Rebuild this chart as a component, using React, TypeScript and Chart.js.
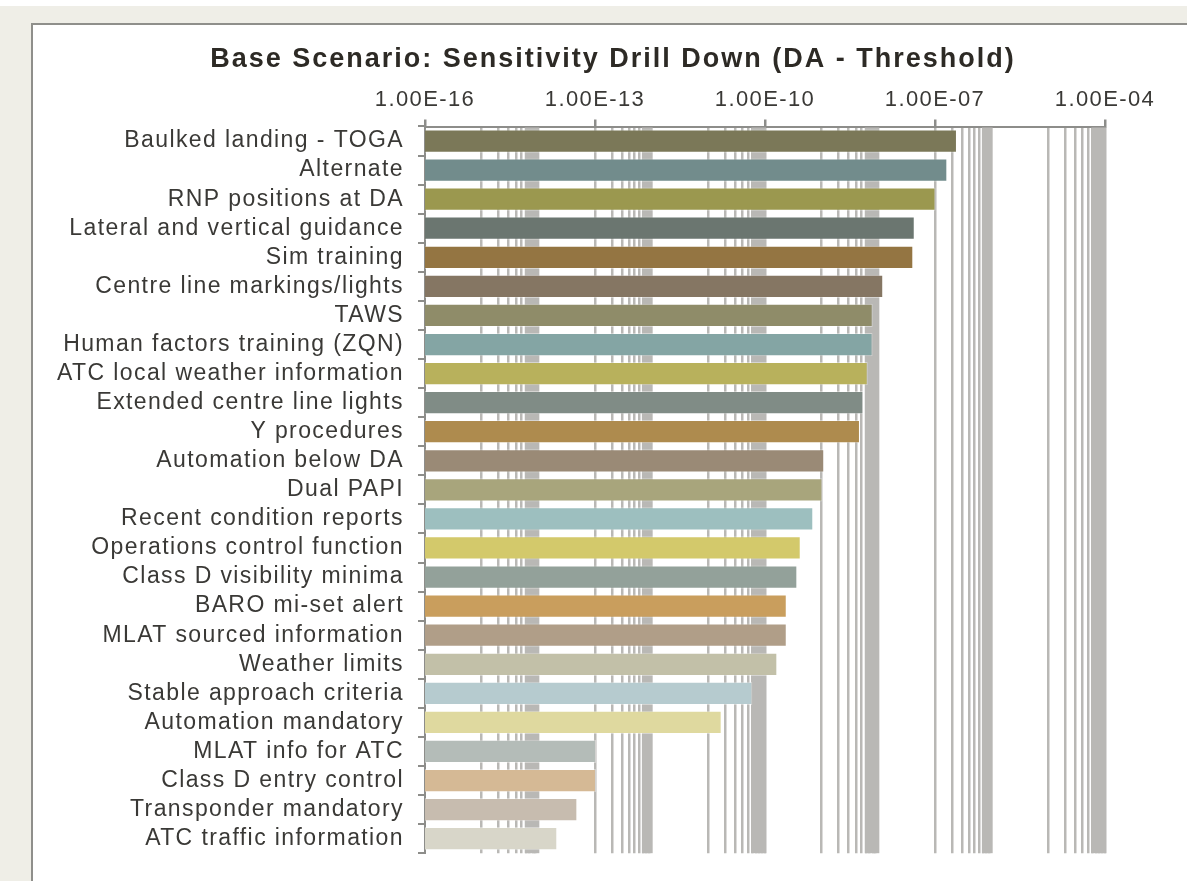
import React, { useEffect, useRef } from "react";
import { Chart, registerables } from "chart.js";

Chart.register(...registerables);

const TITLE = "Base Scenario: Sensitivity Drill Down (DA - Threshold)";

const CATEGORIES = [
  "Baulked landing - TOGA",
  "Alternate",
  "RNP positions at DA",
  "Lateral and vertical guidance",
  "Sim training",
  "Centre line markings/lights",
  "TAWS",
  "Human factors training (ZQN)",
  "ATC local weather information",
  "Extended centre line lights",
  "Y procedures",
  "Automation below DA",
  "Dual PAPI",
  "Recent condition reports",
  "Operations control function",
  "Class D visibility minima",
  "BARO mi-set alert",
  "MLAT sourced information",
  "Weather limits",
  "Stable approach criteria",
  "Automation mandatory",
  "MLAT info for ATC",
  "Class D entry control",
  "Transponder mandatory",
  "ATC traffic information",
];

const VALUES = [
  2.44e-7, 1.65e-7, 1.02e-7, 4.39e-8, 4.14e-8, 1.22e-8, 7.94e-9, 7.9e-9,
  6.49e-9, 5.43e-9, 4.74e-9, 1.11e-9, 1.03e-9, 7.11e-10, 4.27e-10, 3.72e-10,
  2.42e-10, 2.42e-10, 1.65e-10, 5.97e-11, 1.72e-11, 1.04e-13, 1.04e-13,
  4.88e-14, 2.16e-14,
];

const BAR_COLORS = [
  "#7b7858", "#728c8c", "#9b984f", "#6b7670", "#947542", "#857663",
  "#8f8c69", "#84a5a4", "#b8b15c", "#808c86", "#ae8b4e", "#9a8a76",
  "#a8a57c", "#9dbfbf", "#d3c96b", "#93a19a", "#c99e5d", "#b09e88",
  "#c2c0a8", "#b6cbcf", "#dfd99f", "#b4bcb8", "#d5b995", "#c7bcaf",
  "#d8d6c9",
];

const MAJOR_TICKS = [1e-16, 1e-13, 1e-10, 1e-7, 1e-4];
const TICK_LABELS = ["1.00E-16", "1.00E-13", "1.00E-10", "1.00E-07", "1.00E-04"];
// decades in which the minor grid lines are visible: [exponent, first multiplier]
const MINOR_DECADES: [number, number][] = [
  [-15, 1], [-13, 2], [-11, 1], [-9, 1], [-7, 2], [-5, 1],
];
// where the minor grid lines run together into solid grey bands: [from, to]
const GRID_BANDS: [number, number][] = [
  [6e-15, 1e-14], [7e-13, 1e-12], [6e-11, 1e-10], [6e-9, 1e-8], [7e-7, 1e-6], [6e-5, 1e-4],
];

const GRID_COLOR = "#b9b8b5";
const AXIS_COLOR = "#8d8d8a";
const TEXT_COLOR = "#3a3936";
const TITLE_COLOR = "#2d2a25";
const FONT = '"Liberation Sans", Arial, sans-serif';
const LABEL_SPACING = 1.4;
const TITLE_SPACING = 2.0;
const TITLE_FONT_SIZE = 27;

// layout (pixels on the page)
const PAD_LEFT = 40;
const PAD_TOP = 80;
const PLOT_LEFT = 425;
const PLOT_TOP = 126.5;
const PLOT_RIGHT = 1105;
const PLOT_BOTTOM = 855;
const TITLE_X = 612;
const TITLE_Y = 60;

function buildGridValues(): number[] {
  const vals: number[] = [...MAJOR_TICKS];
  for (const [exp, from] of MINOR_DECADES) {
    for (let k = from; k <= 9; k++) vals.push(Number(`${k}e${exp}`));
  }
  return vals.sort((a, b) => a - b);
}

function majorIndex(v: number): number {
  return MAJOR_TICKS.findIndex((m) => Math.abs(Math.log10(m) - Math.log10(v)) < 1e-6);
}

const spacingPlugin = {
  id: "letterSpacing",
  beforeLayout(chart: any) {
    chart.ctx.letterSpacing = `${LABEL_SPACING}px`;
  },
  beforeDraw(chart: any) {
    chart.ctx.letterSpacing = `${LABEL_SPACING}px`;
  },
};

const bandPlugin = {
  id: "gridBands",
  beforeDatasetsDraw(chart: any) {
    const { ctx, chartArea } = chart;
    const x = chart.scales.x;
    ctx.save();
    ctx.fillStyle = GRID_COLOR;
    for (const [a, b] of GRID_BANDS) {
      const x0 = x.getPixelForValue(a) - 1;
      const x1 = x.getPixelForValue(b) + 1;
      ctx.fillRect(x0, chartArea.top + 1, x1 - x0, chartArea.bottom - chartArea.top - 1);
    }
    ctx.restore();
  },
};

const titlePlugin = {
  id: "spacedTitle",
  afterDraw(chart: any) {
    const ctx = chart.ctx;
    ctx.save();
    ctx.letterSpacing = `${TITLE_SPACING}px`;
    ctx.font = `bold ${TITLE_FONT_SIZE}px ${FONT}`;
    ctx.fillStyle = TITLE_COLOR;
    ctx.textAlign = "center";
    ctx.textBaseline = "middle";
    ctx.fillText(TITLE, TITLE_X + TITLE_SPACING / 2, TITLE_Y);
    ctx.restore();
  },
};

export default function App() {
  const ref = useRef<HTMLCanvasElement | null>(null);

  useEffect(() => {
    if (!ref.current) return;
    const gridValues = buildGridValues();
    const chart = new Chart(ref.current, {
      type: "bar",
      data: {
        labels: CATEGORIES,
        datasets: [
          {
            data: VALUES,
            backgroundColor: BAR_COLORS,
            borderColor: "rgba(255,255,255,0.4)",
            borderWidth: 1,
            barPercentage: 0.8,
            categoryPercentage: 1,
          },
        ],
      },
      plugins: [spacingPlugin, bandPlugin, titlePlugin],
      options: {
        indexAxis: "y",
        responsive: false,
        animation: false,
        layout: {
          padding: { left: PAD_LEFT, right: 1187 - PLOT_RIGHT, top: PAD_TOP, bottom: 881 - PLOT_BOTTOM },
        },
        plugins: {
          legend: { display: false },
          tooltip: { enabled: false },
          title: { display: false },
        },
        scales: {
          x: {
            type: "logarithmic",
            position: "top",
            min: 1e-16,
            max: 1e-4,
            afterBuildTicks: (scale: any) => {
              scale.ticks = gridValues.map((value) => ({ value }));
            },
            afterFit: (scale: any) => {
              scale.height = PLOT_TOP - PAD_TOP;
            },
            ticks: {
              autoSkip: false,
              maxRotation: 0,
              minRotation: 0,
              padding: 6,
              color: TEXT_COLOR,
              font: { family: FONT, size: 22 },
              callback: (value: any) => {
                const i = majorIndex(Number(value));
                return i >= 0 ? TICK_LABELS[i] : "";
              },
            },
            grid: {
              lineWidth: 2.5,
              tickLength: 7,
              color: (ctx: any) =>
                ctx.tick && majorIndex(ctx.tick.value) === 0 ? "rgba(0,0,0,0)" : GRID_COLOR,
              tickColor: (ctx: any) =>
                ctx.tick && majorIndex(ctx.tick.value) >= 0 ? AXIS_COLOR : "rgba(0,0,0,0)",
            },
            border: { display: true, color: AXIS_COLOR, width: 2 },
          },
          y: {
            type: "category",
            afterFit: (scale: any) => {
              scale.width = PLOT_LEFT - PAD_LEFT;
            },
            ticks: {
              autoSkip: false,
              padding: 14,
              color: TEXT_COLOR,
              font: { family: FONT, size: 23 },
            },
            grid: {
              offset: true,
              drawOnChartArea: false,
              tickLength: 7,
              lineWidth: 2,
              color: AXIS_COLOR,
            },
            border: { display: true, color: AXIS_COLOR, width: 2 },
          },
        },
      },
    } as any);
    return () => chart.destroy();
  }, []);

  return (
    <div style={{ position: "fixed", left: 0, top: 0, width: 1187, height: 881, background: "#efeee7", overflow: "hidden" }}>
      <div style={{ position: "absolute", left: 0, top: 0, width: 1187, height: 6, background: "#ffffff" }} />
      <div
        style={{
          position: "absolute",
          left: 31,
          top: 23,
          width: 1187,
          height: 900,
          background: "#ffffff",
          borderLeft: "2px solid #8f8f8b",
          borderTop: "2px solid #8f8f8b",
        }}
      />
      <canvas
        ref={ref}
        width={1187}
        height={881}
        style={{ position: "absolute", left: 0, top: 0, width: 1187, height: 881 }}
      />
    </div>
  );
}
